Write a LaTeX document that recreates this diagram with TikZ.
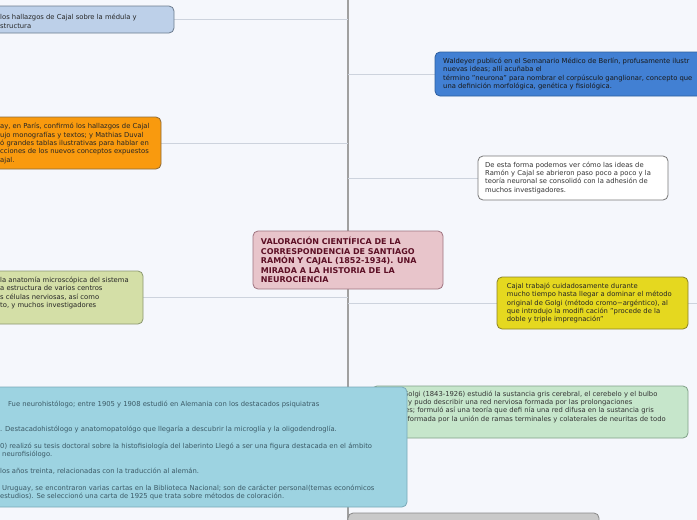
\documentclass[tikz,border=0pt]{standalone}
\usepackage{fontspec}
\setmainfont{DejaVu Sans}
\pgfdeclarelayer{bglayer}
\pgfdeclarelayer{linelayer}
\pgfsetlayers{bglayer,linelayer,main}
\definecolor{bgc}{HTML}{F5F7FC}
\definecolor{trunkc}{HTML}{A0A0A0}
\definecolor{branchc}{HTML}{CDD3DD}
\definecolor{tlfill}{HTML}{BDD0E9}\definecolor{tldraw}{HTML}{6D7C8E}
\definecolor{orfill}{HTML}{F99A0E}\definecolor{ordraw}{HTML}{8A6A3A}
\definecolor{blfill}{HTML}{4280D3}\definecolor{bldraw}{HTML}{2E5E9E}
\definecolor{whdraw}{HTML}{777777}
\definecolor{cefill}{HTML}{E8C5CB}\definecolor{cedraw}{HTML}{9E7480}\definecolor{cetext}{HTML}{5C0F25}
\definecolor{yefill}{HTML}{E5D81F}\definecolor{yedraw}{HTML}{8A8228}
\definecolor{glfill}{HTML}{D4DFA7}\definecolor{gldraw}{HTML}{8B9870}
\definecolor{cyfill}{HTML}{9DD3E1}\definecolor{cydraw}{HTML}{79A9B8}\definecolor{cytext}{HTML}{3C5A66}
\definecolor{grfill}{HTML}{C6E6CB}\definecolor{grdraw}{HTML}{80A088}
\definecolor{gyfill}{HTML}{C9C9C9}\definecolor{gydraw}{HTML}{888888}
\newcommand{\myfl}{\rule{0pt}{6pt}}
\newcommand{\mycfl}{\rule{0pt}{8pt}}
\begin{document}
\begin{tikzpicture}[x=1pt,y=-1pt,
  boxst/.style={draw, rounded corners=5pt, line width=0.8pt, inner sep=0pt},
  txt/.style={anchor=north west, inner sep=0pt, align=left, font=\fontsize{6.8}{8.33}\selectfont},
  ctxt/.style={anchor=north west, inner sep=0pt, align=left, font=\fontsize{8}{9.5}\selectfont\bfseries, text=cetext},
  trunk/.style={draw=trunkc, line width=2pt},
  branch/.style={draw=branchc, line width=0.8pt}]
\useasboundingbox (0,0) rectangle (697,520);
\clip (0,0) rectangle (697,520);
\begin{pgfonlayer}{bglayer}
\fill[bgc] (0,0) rectangle (697,520);
\end{pgfonlayer}
% trunk coordinates
\coordinate (trunktop) at (348,0);
\coordinate (trunkbot) at (348,520);
\coordinate (yelend) at (697,303);
% boxes
\node[boxst, fill=tlfill, draw=tldraw, minimum width=194pt, minimum height=27pt] (tl) at (77,19.5) {};
\node[boxst, fill=orfill, draw=ordraw, minimum width=181pt, minimum height=52pt] (or) at (70.5,143) {};
\node[boxst, fill=glfill, draw=gldraw, minimum width=163pt, minimum height=53pt] (gl) at (61.5,297.5) {};
\node[boxst, fill=blfill, draw=bldraw, minimum width=285pt, minimum height=44pt] (bl) at (577.5,74) {};
\node[boxst, fill=white, draw=whdraw, minimum width=190pt, minimum height=44pt] (wh) at (573,178) {};
\node[boxst, fill=cefill, draw=cedraw, minimum width=190pt, minimum height=58pt] (ce) at (348,260) {};
\node[boxst, fill=yefill, draw=yedraw, minimum width=191pt, minimum height=52pt] (ye) at (592.5,303) {};
\node[boxst, fill=grfill, draw=grdraw, minimum width=316pt, minimum height=52pt] (gr) at (530,412) {};
\node[txt, text=black!80] (grt) at (403,390) {\myfl Golgi (1843-1926) estudió la sustancia gris cerebral, el cerebelo y el bulbo\\
\hspace*{5pt}y pudo describir una red nerviosa formada por las prolongaciones\\
les; formuló así una teoría que defi nía una red difusa en la sustancia gris\\
, formada por la unión de ramas terminales y colaterales de neuritas de todo};
\node[boxst, fill=cyfill, draw=cydraw, minimum width=427pt, minimum height=120pt] (cy) at (193.5,447) {};
\node[boxst, fill=gyfill, draw=gydraw, minimum width=251pt, minimum height=40pt] (gy) at (473.5,533) {};
% connectors
\begin{pgfonlayer}{linelayer}
\draw[trunk] (trunktop) -- (trunkbot);
\draw[branch] (tl.east) -- (tl.east -| trunktop);
\draw[branch] (or.east) -- (or.east -| trunktop);
\draw[branch] (gl.east) -- (gl.east -| trunktop);
\draw[branch] (bl.west) -- (bl.west -| trunktop);
\draw[branch] (wh.west) -- (wh.west -| trunktop);
\draw[branch] (ye.west) -- (ye.west -| trunktop);
\draw[branch] (gr.west) -- (gr.west -| trunktop);
\draw[branch] (ye.east) -- (yelend);
\end{pgfonlayer}
% texts
\node[txt, text=black!85] (tlt) at (0,13.5) {\myfl los hallazgos de Cajal sobre la médula y\\structura};
\node[txt, text=black!85] (ort) at (0,122.5) {\myfl ay, en París, confirmó los hallazgos de Cajal\\
ujo monografías y textos; y Mathias Duval\\
ó grandes tablas ilustrativas para hablar en\\
cciones de los nuevos conceptos expuestos\\
ajal.};
\node[txt, text=black!85] (glt) at (0,276.3) {\myfl la anatomía microscópica del sistema\\
a estructura de varios centros\\
s células nerviosas, así como\\
to, y muchos investigadores};
\node[txt, text=black!90] (blt) at (443,57.3) {\myfl Waldeyer publicó en el Semanario Médico de Berlín, profusamente ilustr\\
nuevas ideas; allí acuñaba el\\
término "neurona" para nombrar el corpúsculo ganglionar, concepto que\\
una definición morfológica, genética y fisiológica.};
\node[txt, text=black!80] (wht) at (485,161) {\myfl De esta forma podemos ver cómo las ideas de\\
Ramón y Cajal se abrieron paso poco a poco y la\\
teoría neuronal se consolidó con la adhesión de\\
muchos investigadores.};
\node[ctxt] (cet) at (260.7,236.5) {\mycfl VALORACIÓN CIENTÍFICA DE LA\\
CORRESPONDENCIA DE SANTIAGO\\
RAMÓN Y CAJAL (1852-1934). UNA\\
MIRADA A LA HISTORIA DE LA\\
NEUROCIENCIA};
\node[txt, text=black!85] (yet) at (506.7,282.3) {\myfl Cajal trabajó cuidadosamente durante\\
mucho tiempo hasta llegar a dominar el método\\
original de Golgi (método cromo−argéntico), al\\
que introdujo la modifi cación "procede de la\\
doble y triple impregnación"};
\node[txt, text=cytext] (cyt) at (0,400.5) {\myfl\hspace*{8pt}Fue neurohistólogo; entre 1905 y 1908 estudió en Alemania con los destacados psiquiatras\\[16.66pt]
. Destacadohistólogo y anatomopatológo que llegaría a descubrir la microglía y la oligodendroglía.\\[8.33pt]
0) realizó su tesis doctoral sobre la histofisiología del laberinto Llegó a ser una figura destacada en el ámbito\\
\hspace*{2pt}neurofisiólogo.\\[8.33pt]
los años treinta, relacionadas con la traducción al alemán.\\[8.33pt]
\hspace*{2pt}Uruguay, se encontraron varias cartas en la Biblioteca Nacional; son de carácter personal(temas económicos\\
estudios). Se seleccionó una carta de 1925 que trata sobre métodos de coloración.};
\end{tikzpicture}
\end{document}
